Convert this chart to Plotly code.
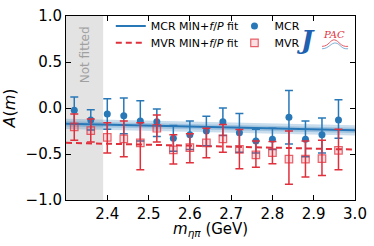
import plotly.graph_objects as go

# ---------------- data ----------------
mass = [2.32, 2.36, 2.40, 2.44, 2.48, 2.52, 2.56, 2.60, 2.64, 2.68,
        2.72, 2.76, 2.80, 2.84, 2.88, 2.92, 2.96]

mcr_val = [-0.025, -0.13, -0.065, -0.085, -0.14, -0.15, -0.33, -0.29, -0.25, -0.15,
           -0.27, -0.36, -0.34, -0.10, -0.34, -0.29, -0.13]
mcr_up = [0.12, -0.02, 0.10, 0.11, 0.08, -0.01, -0.19, -0.14, -0.09, 0.00,
          -0.06, -0.23, -0.22, 0.19, -0.14, -0.11, 0.09]
mcr_lo = [-0.17, -0.24, -0.23, -0.28, -0.36, -0.31, -0.47, -0.45, -0.41, -0.30,
          -0.48, -0.49, -0.45, -0.39, -0.53, -0.49, -0.33]

mvr_val = [-0.205, -0.245, -0.32, -0.335, -0.38, -0.22, -0.455, -0.43, -0.38, -0.335,
           -0.45, -0.51, -0.485, -0.555, -0.555, -0.55, -0.46]
mvr_up = [-0.065, -0.12, -0.16, -0.14, -0.16, -0.075, -0.29, -0.28, -0.22, -0.18,
          -0.235, -0.36, -0.365, -0.25, -0.36, -0.35, -0.23]
mvr_lo = [-0.35, -0.37, -0.49, -0.53, -0.67, -0.37, -0.61, -0.595, -0.54, -0.48,
          -0.66, -0.645, -0.605, -0.83, -0.75, -0.735, -0.67]

fit_x = [2.30, 3.00]
mcr_fit = [-0.172, -0.243]
mcr_band_outer = [0.055, 0.055]
mcr_band_inner = [0.028, 0.028]
mvr_fit = [-0.378, -0.452]

fit_min = 2.39
x_range = [2.30, 3.00]
x_ticks = [2.4, 2.5, 2.6, 2.7, 2.8, 2.9, 3.0]
x_tick_labels = ["2.4", "2.5", "2.6", "2.7", "2.8", "2.9", "3.0"]
y_ticks = [-1.0, -0.5, 0.0, 0.5, 1.0]
y_tick_labels = ["\u22121.0", "\u22120.5", "0.0", "0.5", "1.0"]

BLUE = "#2878b8"
RED = "#e0303c"
FONT = "DejaVu Sans"

fig = go.Figure()

# error band of MCR fit
for half, alpha in [(mcr_band_outer, 0.25), (mcr_band_inner, 0.25)]:
    up = [c + h for c, h in zip(mcr_fit, half)]
    lo = [c - h for c, h in zip(mcr_fit, half)]
    fig.add_trace(go.Scatter(x=fit_x + fit_x[::-1], y=up + lo[::-1], fill="toself",
                             fillcolor=f"rgba(40,120,184,{alpha})", line=dict(width=0),
                             mode="lines", showlegend=False, hoverinfo="skip"))

fig.add_trace(go.Scatter(x=fit_x, y=mcr_fit, mode="lines",
                         line=dict(color=BLUE, width=2),
                         name="MCR MIN+<i>f</i>/<i>P</i> fit", legend="legend"))
fig.add_trace(go.Scatter(x=fit_x, y=mvr_fit, mode="lines",
                         line=dict(color=RED, width=2, dash="6px,4px"),
                         name="MVR MIN+<i>f</i>/<i>P</i> fit", legend="legend2"))

fig.add_trace(go.Scatter(
    x=mass, y=mcr_val, mode="markers", name="MCR", legend="legend3",
    marker=dict(color=BLUE, size=7, symbol="circle"),
    error_y=dict(type="data", symmetric=False,
                 array=[u - v for u, v in zip(mcr_up, mcr_val)],
                 arrayminus=[v - l for v, l in zip(mcr_val, mcr_lo)],
                 color=BLUE, thickness=1.5, width=4)))
fig.add_trace(go.Scatter(
    x=mass, y=mvr_val, mode="markers", name="MVR", legend="legend4",
    marker=dict(color="rgba(224,48,60,0.15)", size=7.5, symbol="square",
                line=dict(color="rgba(224,48,60,0.75)", width=1.2)),
    error_y=dict(type="data", symmetric=False,
                 array=[u - v for u, v in zip(mvr_up, mvr_val)],
                 arrayminus=[v - l for v, l in zip(mvr_val, mvr_lo)],
                 color=RED, thickness=1.5, width=4)))

# not fitted region
fig.add_shape(type="rect", xref="x", yref="paper", x0=x_range[0], x1=fit_min,
              y0=0, y1=1, fillcolor="#e3e3e3", line=dict(width=0), layer="below")
fig.add_annotation(x=(x_range[0] + fit_min) / 2, y=0.58, xref="x", yref="y",
                   text="Not fitted", textangle=-90, showarrow=False,
                   font=dict(family=FONT, size=12, color="#a0a0a0"))

# x-axis title
fig.add_annotation(x=0.5, y=-0.162, xref="paper", yref="paper", showarrow=False,
                   xanchor="center", yanchor="middle",
                   text="<i>m</i><sub><i>\u03b7\u03c0</i></sub> (GeV)",
                   font=dict(family=FONT, size=15, color="black"))

# JPAC logo (text + small wave decoration)
fig.add_annotation(x=0.83, y=0.87, xref="paper", yref="paper", showarrow=False,
                   xanchor="center", yanchor="middle",
                   text="<b><i>J</i></b>", font=dict(family="DejaVu Serif", size=26, color="#2060b0"))
fig.add_annotation(x=0.928, y=0.90, xref="paper", yref="paper", showarrow=False,
                   xanchor="center", yanchor="middle",
                   text="<i>PAC</i>", font=dict(family="DejaVu Serif", size=10, color=RED))
fig.add_shape(type="path", xref="paper", yref="paper",
              path="M 0.886,0.835 C 0.910,0.835 0.915,0.875 0.930,0.870 S 0.950,0.830 0.976,0.835",
              line=dict(color=RED, width=0.8))
fig.add_shape(type="path", xref="paper", yref="paper",
              path="M 0.886,0.822 C 0.910,0.822 0.918,0.858 0.934,0.853 S 0.952,0.818 0.976,0.822",
              line=dict(color=BLUE, width=0.6))

axis_common = dict(showline=True, linecolor="black", linewidth=1, mirror="ticks",
                   ticks="inside", ticklen=5, tickwidth=1, tickcolor="black",
                   showgrid=False, zeroline=False, automargin=False,
                   tickfont=dict(family=FONT, size=15, color="black"))

leg = dict(xanchor="left", yanchor="middle", bgcolor="rgba(0,0,0,0)",
           font=dict(family=FONT, size=11), itemwidth=30)

fig.update_layout(
    width=374, height=246,
    margin=dict(l=66, r=19, t=12, b=46),
    plot_bgcolor="white", paper_bgcolor="white",
    font=dict(family=FONT, color="black"),
    xaxis=dict(range=x_range, tickvals=x_ticks, ticktext=x_tick_labels, **axis_common),
    yaxis=dict(range=[-1.0, 1.0], tickvals=y_ticks, ticktext=y_tick_labels,
               title=dict(text="<i>A</i>(<i>m</i>)", font=dict(family=FONT, size=16)),
               **axis_common),
    legend=dict(x=0.155, y=0.945, **leg),
    legend2=dict(x=0.155, y=0.854, **leg),
    legend3=dict(x=0.583, y=0.945, **leg),
    legend4=dict(x=0.583, y=0.854, **leg),
    showlegend=True,
)

fig.write_html("out.html", post_script="document.body.style.margin='0';",
               config={"displayModeBar": False})
